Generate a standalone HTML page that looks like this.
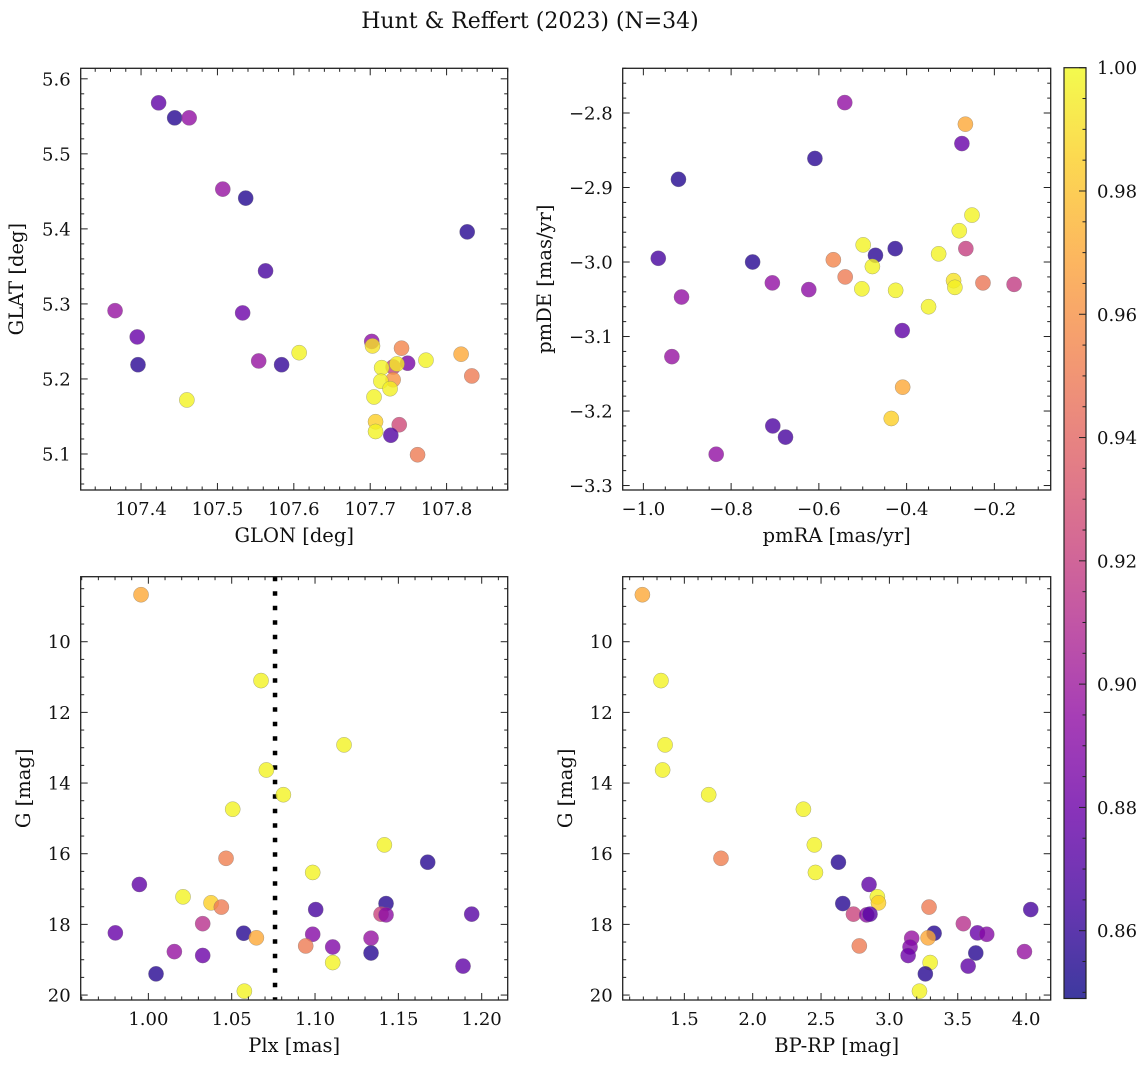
<!DOCTYPE html>
<html><head><meta charset="utf-8"><style>
html,body{margin:0;padding:0;background:#fff;}
svg{display:block;font-family:"DejaVu Serif","Liberation Serif",serif;}
</style></head><body>
<svg id="chart" width="1148" height="1067" viewBox="0 0 1148 1067" xmlns="http://www.w3.org/2000/svg">
<rect width="1148" height="1067" fill="#fff"/>
<text x="530" y="28" text-anchor="middle" font-size="22" fill="#111">Hunt &amp; Reffert (2023) (N=34)</text>
</svg>
<script>
// Panel 1: GLON vs GLAT
const glon = [107.423,107.444,107.463,107.507,107.537,107.827,107.563,107.366,107.533,107.395,107.396,107.554,107.584,107.607,107.460,107.702,107.703,107.741,107.819,107.773,107.749,107.730,107.735,107.715,107.833,107.730,107.714,107.726,107.705,107.707,107.738,107.707,107.727,107.762];
const glat = [5.568,5.548,5.548,5.453,5.441,5.396,5.344,5.291,5.288,5.256,5.219,5.224,5.219,5.235,5.172,5.250,5.244,5.241,5.233,5.225,5.221,5.216,5.220,5.215,5.204,5.199,5.197,5.187,5.176,5.143,5.139,5.130,5.125,5.099];
const prob1 = [0.875,0.856,0.895,0.897,0.855,0.856,0.866,0.897,0.880,0.878,0.857,0.897,0.860,0.998,0.998,0.893,0.992,0.955,0.970,0.998,0.885,0.920,0.995,0.998,0.950,0.962,0.998,0.997,0.998,0.985,0.925,0.998,0.870,0.950];
// Panel 2: pmRA vs pmDE
const pmra = [-0.541,-0.266,-0.274,-0.609,-0.920,-0.251,-0.280,-0.499,-0.426,-0.265,-0.471,-0.327,-0.966,-0.751,-0.567,-0.478,-0.540,-0.706,-0.623,-0.502,-0.425,-0.293,-0.290,-0.226,-0.155,-0.913,-0.350,-0.410,-0.935,-0.409,-0.435,-0.705,-0.676,-0.834];
const pmde = [-2.786,-2.815,-2.841,-2.861,-2.889,-2.937,-2.958,-2.977,-2.982,-2.982,-2.991,-2.989,-2.995,-3.000,-2.997,-3.006,-3.020,-3.028,-3.037,-3.036,-3.038,-3.025,-3.034,-3.028,-3.030,-3.047,-3.060,-3.092,-3.127,-3.168,-3.210,-3.220,-3.235,-3.258];
const prob2 = [0.895,0.970,0.878,0.857,0.855,0.998,0.998,0.998,0.857,0.920,0.857,0.998,0.866,0.856,0.955,0.998,0.950,0.895,0.893,0.998,0.998,0.992,0.997,0.948,0.918,0.895,0.998,0.875,0.897,0.970,0.985,0.868,0.866,0.895];
// Panels 3 & 4: Plx, BP-RP vs G
const plx = [0.9956,1.0676,1.1174,1.0708,1.0810,1.0506,1.1416,1.0466,1.1676,1.0986,0.9946,1.0208,1.0376,1.0438,1.1426,1.1004,1.1396,1.1426,1.1940,1.0326,0.9802,1.0572,1.0648,1.0986,1.1336,1.0944,1.1106,1.0156,1.0326,1.1336,1.1106,1.1888,1.0046,1.0576];
const gmag = [8.67,11.10,12.92,13.63,14.33,14.74,15.75,16.13,16.24,16.53,16.87,17.22,17.39,17.51,17.41,17.58,17.71,17.73,17.71,17.98,18.24,18.25,18.38,18.28,18.39,18.61,18.64,18.77,18.88,18.81,19.08,19.18,19.40,19.89];
const bprp = [1.193,1.329,1.359,1.341,1.678,2.371,2.451,1.768,2.627,2.459,2.851,2.912,2.920,3.290,2.659,4.034,2.737,2.834,2.858,3.541,3.644,3.327,3.283,3.712,3.163,2.780,3.151,3.988,3.137,3.632,3.298,3.576,3.263,3.220];
const prob3 = [0.970,0.998,0.998,0.998,0.998,0.998,0.998,0.952,0.856,0.998,0.875,0.998,0.985,0.950,0.856,0.866,0.922,0.893,0.872,0.912,0.878,0.856,0.970,0.890,0.897,0.950,0.888,0.897,0.880,0.856,0.998,0.875,0.856,0.998];
const plxCut = [1.076];
const cbTicks = [0.86,0.88,0.90,0.92,0.94,0.96,0.98,1.00];
const VMIN = 0.849, VMAX = 1.0;

const NS = "http://www.w3.org/2000/svg";
const svg = document.getElementById('chart');
const plasma = [[13,8,135],[65,4,157],[106,0,168],[143,13,164],[177,42,144],[204,71,120],[225,100,98],[242,132,75],[252,166,54],[252,206,37],[240,249,33]];
function plasmaAt(t){t=Math.max(0,Math.min(1,t));const f=t*10,i=Math.min(9,Math.floor(f)),u=f-i;const a=plasma[i],b=plasma[i+1];return 'rgb('+a.map((v,k)=>Math.round(v+(b[k]-v)*u)).join(',')+')';}
function mk(tag,attrs,parent){const e=document.createElementNS(NS,tag);for(const k in attrs)e.setAttribute(k,attrs[k]);(parent||svg).appendChild(e);return e;}
function fmt(v,d){return (v<0?'\u2212':'')+Math.abs(v).toFixed(d);}

function panel(cfg){
  const g=mk('g',{});
  
  
  const {L,R,T,B}=cfg;
  const sx=v=>L+(v-cfg.x0)/(cfg.x1-cfg.x0)*(R-L);
  const sy=v=>cfg.yInv? T+(v-cfg.y0)/(cfg.y1-cfg.y0)*(B-T) : B-(v-cfg.y0)/(cfg.y1-cfg.y0)*(B-T);
  const yMin=Math.min(cfg.y0,cfg.y1), yMax=Math.max(cfg.y0,cfg.y1);
  if(cfg.vline!==undefined){
    const ln=mk('line',{x1:sx(cfg.vline),x2:sx(cfg.vline),y1:T,y2:B,stroke:'#000','stroke-width':4.5,'stroke-dasharray':'4.5 10'},g);
    
    
  }
  for(let i=0;i<cfg.xs.length;i++){
    const c=mk('circle',{cx:sx(cfg.xs[i]),cy:sy(cfg.ys[i]),r:7.6,fill:plasmaAt((cfg.p[i]-VMIN)/(VMAX-VMIN)),'fill-opacity':0.8,stroke:'#777','stroke-width':0.5,'stroke-opacity':0.6},g);
    
    
  }
  mk('rect',{x:L,y:T,width:R-L,height:B-T,fill:'none',stroke:'#222','stroke-width':1.3},g);
  const eps=1e-9;
  for(let k=Math.ceil(cfg.x0/cfg.xmin-eps);k*cfg.xmin<=cfg.x1+eps;k++){
    const v=k*cfg.xmin,x=sx(v);
    const maj=Math.abs(v/cfg.xmaj-Math.round(v/cfg.xmaj))<1e-6;
    const len=maj?7:3.5;
    mk('line',{x1:x,x2:x,y1:B,y2:B-len,stroke:'#222','stroke-width':1},g);
    mk('line',{x1:x,x2:x,y1:T,y2:T+len,stroke:'#222','stroke-width':1},g);
    if(maj){const t=mk('text',{x:x,y:B+25,'text-anchor':'middle','font-size':18,fill:'#111'},g);t.textContent=fmt(v,cfg.xd);
      
      }
  }
  for(let k=Math.ceil(yMin/cfg.ymin-eps);k*cfg.ymin<=yMax+eps;k++){
    const v=k*cfg.ymin,y=sy(v);
    const maj=Math.abs(v/cfg.ymaj-Math.round(v/cfg.ymaj))<1e-6;
    const len=maj?7:3.5;
    mk('line',{x1:L,x2:L+len,y1:y,y2:y,stroke:'#222','stroke-width':1},g);
    mk('line',{x1:R,x2:R-len,y1:y,y2:y,stroke:'#222','stroke-width':1},g);
    if(maj){const t=mk('text',{x:L-10,y:y+6.5,'text-anchor':'end','font-size':18,fill:'#111'},g);t.textContent=fmt(v,cfg.yd);
      
      }
  }
  const xl=mk('text',{x:(L+R)/2,y:B+52,'text-anchor':'middle','font-size':19.5,fill:'#111'},g);xl.textContent=cfg.xlabel;
  
  
  const yc=(T+B)/2;
  const yl=mk('text',{x:cfg.ylx,y:yc,'text-anchor':'middle','font-size':19.5,fill:'#111',transform:'rotate(-90 '+cfg.ylx+' '+yc+')'},g);yl.textContent=cfg.ylabel;
  
  
}

panel({name:'glon-glat-panel',L:80.7,R:507.7,T:68.3,B:490,x0:107.321,x1:107.880,y0:5.052,y1:5.614,xmaj:0.1,xmin:0.02,ymaj:0.1,ymin:0.02,xd:1,yd:1,xs:glon,ys:glat,p:prob1,xlabel:'GLON [deg]',ylabel:'GLAT [deg]',ylx:23});
panel({name:'proper-motion-panel',L:622.7,R:1050.7,T:68.3,B:490,x0:-1.0471,x1:-0.0716,y0:-3.306,y1:-2.740,xmaj:0.2,xmin:0.05,ymaj:0.1,ymin:0.02,xd:1,yd:1,xs:pmra,ys:pmde,p:prob2,xlabel:'pmRA [mas/yr]',ylabel:'pmDE [mas/yr]',ylx:551});
panel({name:'parallax-mag-panel',L:80.7,R:507.7,T:576.7,B:1000,x0:0.9594,x1:1.2156,y0:8.16,y1:20.14,yInv:true,xmaj:0.05,xmin:0.01,ymaj:2,ymin:0.5,xd:2,yd:0,xs:plx,ys:gmag,p:prob3,vline:plxCut[0],xlabel:'Plx [mas]',ylabel:'G [mag]',ylx:30});
panel({name:'cmd-panel',L:622.7,R:1050.7,T:576.7,B:1000,x0:1.049,x1:4.18,y0:8.16,y1:20.14,yInv:true,xmaj:0.5,xmin:0.1,ymaj:2,ymin:0.5,xd:1,yd:0,xs:bprp,ys:gmag,p:prob3,xlabel:'BP-RP [mag]',ylabel:'G [mag]',ylx:572});

const cbL=1064,cbR=1086,cbT=67.7,cbB=998.5;
const defs=mk('defs',{});
const lg=mk('linearGradient',{id:'cbg',x1:0,y1:1,x2:0,y2:0},defs);
for(let i=0;i<=20;i++){mk('stop',{offset:i/20,'stop-color':plasmaAt(i/20),'stop-opacity':0.8},lg);}
const cb=mk('g',{});


mk('rect',{x:cbL,y:cbT,width:cbR-cbL,height:cbB-cbT,fill:'url(#cbg)',stroke:'#222','stroke-width':1.2},cb);
const cy=v=>cbB-(v-VMIN)/(VMAX-VMIN)*(cbB-cbT);
for(let k=Math.ceil(VMIN/0.005-1e-9);k*0.005<=VMAX+1e-9;k++){
  const v=k*0.005,y=cy(v);const maj=k%4===0;
  mk('line',{x1:cbR,x2:cbR-(maj?7:3.5),y1:y,y2:y,stroke:'#222','stroke-width':1},cb);
}
cbTicks.forEach(v=>{const t=mk('text',{x:cbR+11,y:cy(v)+6.5,'font-size':18,fill:'#111'},cb);t.textContent=v.toFixed(2);
  
  });
</script>
</body></html>
